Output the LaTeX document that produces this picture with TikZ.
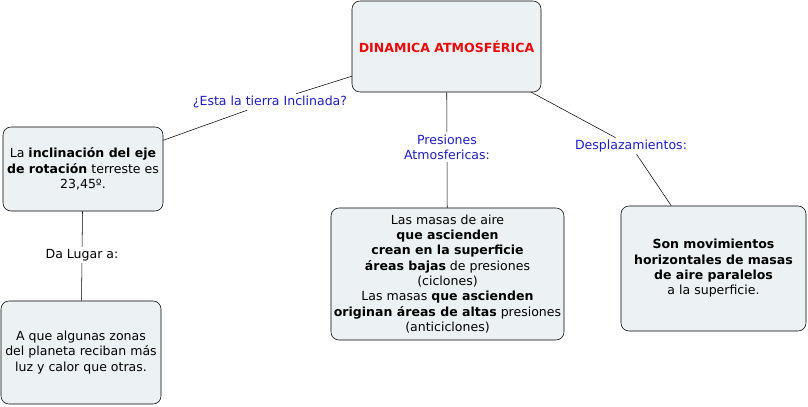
\documentclass[tikz,border=0pt]{standalone}
\usepackage{fontspec}
\setmainfont{DejaVu Sans}
\usepackage{xcolor}
\definecolor{cmfill}{RGB}{236,242,244}
\definecolor{cmblue}{RGB}{30,30,190}
\definecolor{cmred}{RGB}{232,10,10}
\usetikzlibrary{positioning}
\tikzset{
  concept/.style={draw, rounded corners=6pt, fill=cmfill, align=center, font=\fontsize{9.4}{11.5}\selectfont, inner sep=2pt},
  link/.style={align=center, text=cmblue, font=\fontsize{9.4}{11.5}\selectfont, inner sep=1.5pt},
  conn/.style={thin, black}
}
\begin{document}
\begin{tikzpicture}[x=0.75pt, y=-0.75pt]
  \useasboundingbox (0,0) rectangle (808,407);
  \node[concept, minimum width=141.75pt, minimum height=68.25pt, text=cmred, font=\fontsize{9.4}{11.5}\selectfont\bfseries] (dinamica) at (446.5,46.5) {DINAMICA ATMOSFÉRICA};
  \node[concept, minimum width=120pt, minimum height=63pt] (eje) at (83,169) {La \textbf{inclinación del eje}\\\textbf{de rotación} terreste es\\23,45º.};
  \node[concept, minimum width=120pt, minimum height=77.25pt] (zonas) at (81,352.5) {A que algunas zonas\\del planeta reciban más\\luz y calor que otras.};
  \node[concept, minimum width=174.75pt, minimum height=99pt] (masas) at (447.5,274) {Las masas de aire\\\textbf{que ascienden}\\\textbf{crean en la superficie}\\\textbf{áreas bajas} de presiones\\(ciclones)\\Las masas \textbf{que ascienden}\\\textbf{originan áreas de altas} presiones\\(anticiclones)};
  \node[concept, minimum width=138.75pt, minimum height=93.75pt] (movim) at (713.5,268.5) {\textbf{Son movimientos}\\\textbf{horizontales de masas}\\\textbf{de aire paralelos}\\a la superficie.};
  % enlaces
  \node[link] (inclinada) at (270,102) {¿Esta la tierra Inclinada?};
  \node[link] (presiones) at (447,147) {Presiones\\Atmosfericas:};
  \node[link] (desplaz) at (631,146) {Desplazamientos:};
  \node[link, text=black] (lugar) at (82,255) {Da Lugar a:};
  \draw[conn] (dinamica) -- (inclinada);
  \draw[conn] (inclinada) -- (eje);
  \draw[conn] (dinamica) -- (presiones);
  \draw[conn] (presiones) -- (masas);
  \draw[conn] (dinamica) -- (desplaz);
  \draw[conn] (desplaz) -- (movim);
  \draw[conn] (eje) -- (lugar);
  \draw[conn] (lugar) -- (zonas);
\end{tikzpicture}
\end{document}
